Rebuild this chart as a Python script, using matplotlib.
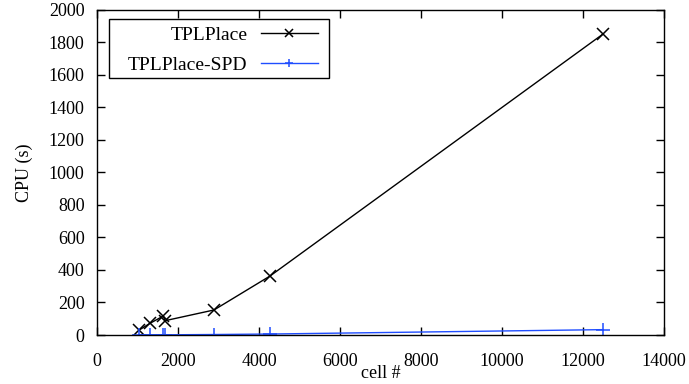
import numpy as np
import matplotlib
matplotlib.use('Agg')
import matplotlib.pyplot as plt
from matplotlib.patches import Rectangle

# cell counts and CPU time (s)
cells = [1045, 1309, 1638, 1679, 2889, 4272, 12494]
cpu_tplplace = [31, 72, 117, 88, 154, 363, 1852]
cpu_spd = [0.5, 1, 1.5, 1.2, 3, 6, 33]

plt.rcParams['font.family'] = ['Liberation Serif', 'DejaVu Serif']
plt.rcParams['font.size'] = 13

fig = plt.figure(figsize=(6.89, 3.84), dpi=100)
ax = fig.add_axes([0.1408, 0.1276, 0.8229, 0.8464])

ax.plot(cells, cpu_tplplace, color='black', lw=1, marker='x', ms=9, mew=1.1, label='TPLPlace')
ax.plot(cells, cpu_spd, color='#1f4dff', lw=1, marker='+', ms=10, mew=1.1, label='TPLPlace-SPD')

ax.set_xlim(0, 14000)
ax.set_ylim(0, 2000)
ax.set_xticks(np.arange(0, 14001, 2000))
ax.set_yticks(np.arange(0, 2001, 200))
ax.tick_params(direction='in', length=6, width=1, top=True, right=True)
ax.tick_params(axis='x', pad=13)
ax.tick_params(axis='y', pad=9)
for s in ax.spines.values():
    s.set_linewidth(1)

ax.set_xlabel('cell #', labelpad=-4)
ax.set_ylabel('CPU (s)', labelpad=11)

# legend frame drawn separately (gnuplot style box, wider padding on the left)
ax.add_patch(Rectangle((0.0217, 0.792), 0.387, 0.180, transform=ax.transAxes,
                       facecolor='white', edgecolor='black', lw=1, zorder=4))
leg = ax.legend(loc='upper right', bbox_to_anchor=(0.389, 0.950), markerfirst=False,
                handlelength=2.9, handletextpad=0.7, frameon=False, borderpad=0,
                borderaxespad=0, labelspacing=0.65, markerscale=0.6, fontsize=14)
leg.set_zorder(5)

fig.savefig('out.png', dpi=100)
